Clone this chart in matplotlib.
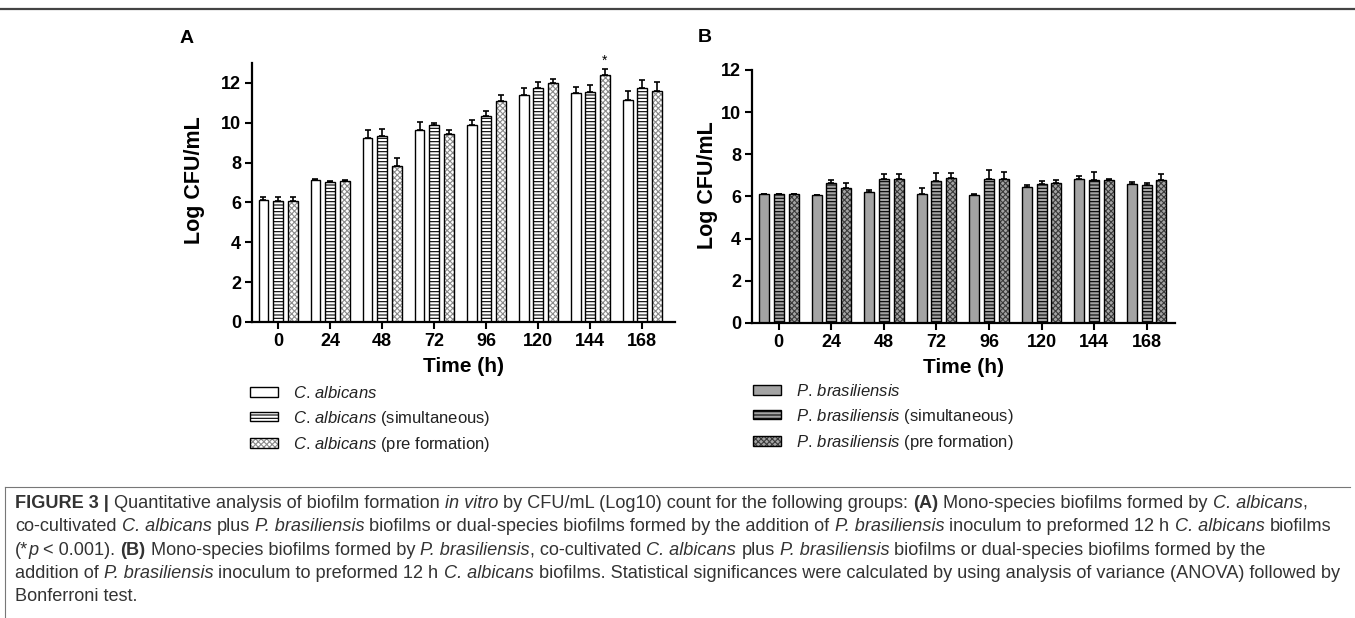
import numpy as np
import matplotlib
matplotlib.use('Agg')
import matplotlib.pyplot as plt
import matplotlib.patches as mpatches
from matplotlib.legend_handler import HandlerTuple

plt.rcParams['font.family'] = ['Liberation Sans', 'DejaVu Sans']
plt.rcParams['mathtext.fontset'] = 'custom'
plt.rcParams['mathtext.rm'] = 'Liberation Sans'
plt.rcParams['mathtext.it'] = 'Liberation Sans:italic'
plt.rcParams['mathtext.bf'] = 'Liberation Sans:bold'
plt.rcParams['hatch.linewidth'] = 0.8

# Zeitpunkte (h)
times = ['0', '24', '48', '72', '96', '120', '144', '168']

# Panel A: C. albicans
ca_mono = [6.1, 7.15, 9.25, 9.65, 9.9, 11.4, 11.5, 11.15]
ca_mono_err = [0.15, 0.05, 0.4, 0.4, 0.25, 0.35, 0.3, 0.45]
ca_sim = [6.05, 7.05, 9.35, 9.9, 10.35, 11.75, 11.55, 11.75]
ca_sim_err = [0.2, 0.05, 0.35, 0.1, 0.25, 0.3, 0.35, 0.4]
ca_pre = [6.05, 7.1, 7.85, 9.45, 11.1, 12.0, 12.4, 11.6]
ca_pre_err = [0.2, 0.05, 0.4, 0.2, 0.3, 0.2, 0.3, 0.45]

# Panel B: P. brasiliensis
pb_mono = [6.1, 6.05, 6.2, 6.1, 6.05, 6.45, 6.85, 6.6]
pb_mono_err = [0.03, 0.03, 0.12, 0.3, 0.08, 0.1, 0.12, 0.08]
pb_sim = [6.1, 6.65, 6.85, 6.75, 6.85, 6.6, 6.8, 6.55]
pb_sim_err = [0.03, 0.12, 0.2, 0.35, 0.4, 0.15, 0.35, 0.1]
pb_pre = [6.1, 6.4, 6.85, 6.9, 6.85, 6.65, 6.8, 6.8]
pb_pre_err = [0.03, 0.25, 0.2, 0.2, 0.3, 0.15, 0.05, 0.25]

labels_a = [r'$\mathit{C.\,albicans}$',
            r'$\mathit{C.\,albicans}$ (simultaneous)',
            r'$\mathit{C.\,albicans}$ (pre formation)']
labels_b = [r'$\mathit{P.\,brasiliensis}$',
            r'$\mathit{P.\,brasiliensis}$ (simultaneous)',
            r'$\mathit{P.\,brasiliensis}$ (pre formation)']

styles_a = [dict(face='white', hatch='', hcolor='black'),
            dict(face='white', hatch='-----', hcolor='black'),
            dict(face='white', hatch='xxxxxx', hcolor='#8a8a8a')]
gray = '#a4a4a4'
styles_b = [dict(face=gray, hatch='', hcolor='black'),
            dict(face=gray, hatch='-----', hcolor='black'),
            dict(face=gray, hatch='xxxxxx', hcolor='#3a3a3a')]

# Bildunterschrift: (Text, Stil) mit n=normal, i=kursiv, b=fett
caption = [
    [('FIGURE 3 |', 'b'), (' Quantitative analysis of biofilm formation ', 'n'), ('in vitro', 'i'),
     (' by CFU/mL (Log10) count for the following groups: ', 'n'), ('(A)', 'b'),
     (' Mono-species biofilms formed by ', 'n'), ('C. albicans', 'i'), (',', 'n')],
    [('co-cultivated ', 'n'), ('C. albicans', 'i'), (' plus ', 'n'), ('P. brasiliensis', 'i'),
     (' biofilms or dual-species biofilms formed by the addition of ', 'n'), ('P. brasiliensis', 'i'),
     (' inoculum to preformed 12 h ', 'n'), ('C. albicans', 'i'), (' biofilms', 'n')],
    [('(*', 'n'), ('p', 'i'), (' < 0.001). ', 'n'), ('(B)', 'b'), (' Mono-species biofilms formed by ', 'n'),
     ('P. brasiliensis', 'i'), (', co-cultivated ', 'n'), ('C. albicans', 'i'), (' plus ', 'n'),
     ('P. brasiliensis', 'i'), (' biofilms or dual-species biofilms formed by the', 'n')],
    [('addition of ', 'n'), ('P. brasiliensis', 'i'), (' inoculum to preformed 12 h ', 'n'), ('C. albicans', 'i'),
     (' biofilms. Statistical significances were calculated by using analysis of variance (ANOVA) followed by', 'n')],
    [('Bonferroni test.', 'n')],
]

W, H = 1355, 618
fig = plt.figure(figsize=(W / 100, H / 100), dpi=100)
renderer = fig.canvas.get_renderer()


def px_axes(left, top, right, bottom):
    return fig.add_axes([left / W, 1 - bottom / H, (right - left) / W, (bottom - top) / H])


def draw_panel(ax, series, errors, styles):
    x = np.arange(len(times))
    offsets = [-0.28, 0.0, 0.28]
    handles = []
    for vals, errs, st, off in zip(series, errors, styles, offsets):
        xs = x + off
        ax.bar(xs, vals, 0.19, color=st['face'], hatch=st['hatch'],
               edgecolor=st['hcolor'], linewidth=0, zorder=2)
        ax.bar(xs, vals, 0.19, fill=False, edgecolor='black', linewidth=1.0, zorder=3)
        ax.errorbar(xs, vals, yerr=[np.zeros(len(vals)), errs], fmt='none',
                    ecolor='black', elinewidth=1.2, capsize=2.5, capthick=1.2, zorder=4)
        h1 = mpatches.Patch(facecolor=st['face'], hatch=st['hatch'],
                            edgecolor=st['hcolor'], linewidth=0)
        h2 = mpatches.Patch(fill=False, edgecolor='black', linewidth=1.0)
        handles.append((h1, h2))
    ax.set_xticks(x)
    ax.set_xticklabels(times)
    for s in ['top', 'right']:
        ax.spines[s].set_visible(False)
    for s in ['left', 'bottom']:
        ax.spines[s].set_linewidth(1.6)
    ax.tick_params(direction='out', length=5, width=1.5, labelsize=13, pad=3)
    for lab in ax.get_xticklabels() + ax.get_yticklabels():
        lab.set_fontweight('bold')
    ax.set_xlabel('Time (h)', fontsize=15, fontweight='bold', labelpad=5)
    return handles


def rich_line(x_px, y_px, segments, size, color):
    sp = 0.2778 * size * 100 / 72
    x = x_px
    for s, st in segments:
        lead = len(s) - len(s.lstrip(' '))
        trail = len(s) - len(s.rstrip(' '))
        x += lead * sp
        t = fig.text(x / W, 1 - y_px / H, s.strip(' '), fontsize=size, color=color,
                     style='italic' if st == 'i' else 'normal',
                     weight='bold' if st == 'b' else 'normal', va='baseline')
        x += t.get_window_extent(renderer).width + trail * sp


# Panel A
axA = px_axes(252, 63, 675, 322)
hA = draw_panel(axA, [ca_mono, ca_sim, ca_pre], [ca_mono_err, ca_sim_err, ca_pre_err], styles_a)
axA.set_xlim(-0.5, 7.63)
axA.set_ylim(0, 13)
axA.set_yticks(range(0, 13, 2))
axA.set_ylabel('Log CFU/mL', fontsize=15.5, fontweight='bold')
axA.yaxis.set_label_coords(-0.111, (322 - 180) / (322 - 63))
axA.text(6 + 0.28, ca_pre[6] + ca_pre_err[6] + 0.05, '*', ha='center', va='bottom', fontsize=10)

# Panel B
axB = px_axes(752, 70, 1175, 323)
hB = draw_panel(axB, [pb_mono, pb_sim, pb_pre], [pb_mono_err, pb_sim_err, pb_pre_err], styles_b)
axB.set_xlim(-0.51, 7.54)
axB.set_ylim(0, 12)
axB.set_yticks(range(0, 13, 2))
axB.set_ylabel('Log CFU/mL', fontsize=15.5, fontweight='bold')
axB.yaxis.set_label_coords(-0.080, (323 - 185) / (323 - 70))

fig.text(180 / W, 1 - 43 / H, 'A', fontsize=14, fontweight='bold', va='baseline')
fig.text(698 / W, 1 - 42 / H, 'B', fontsize=14, fontweight='bold', va='baseline')

# Legenden
for handles, labels, lx, ly in [(hA, labels_a, 250, 385), (hB, labels_b, 753, 383)]:
    fig.legend(handles, labels, loc='upper left', bbox_to_anchor=(lx / W, 1 - ly / H),
               frameon=False, fontsize=12, handlelength=1.7, handleheight=0.5,
               handletextpad=0.9, labelspacing=0.45, borderpad=0, borderaxespad=0,
               labelcolor='#222222', handler_map={tuple: HandlerTuple(ndivide=1)})

# Rahmenlinien
fig.add_artist(plt.Line2D([0, 1], [1 - 8.5 / H, 1 - 8.5 / H], color='#444444', linewidth=1.6))
fig.add_artist(plt.Line2D([5 / W, 1350 / W], [1 - 487 / H, 1 - 487 / H], color='#777777', linewidth=0.8))
fig.add_artist(plt.Line2D([5 / W, 5 / W], [1 - 487 / H, 0], color='#777777', linewidth=0.8))

for i, line in enumerate(caption):
    rich_line(15, 508 + i * 23.3, line, 13.1, '#333333')

fig.savefig('out.png', dpi=100)
